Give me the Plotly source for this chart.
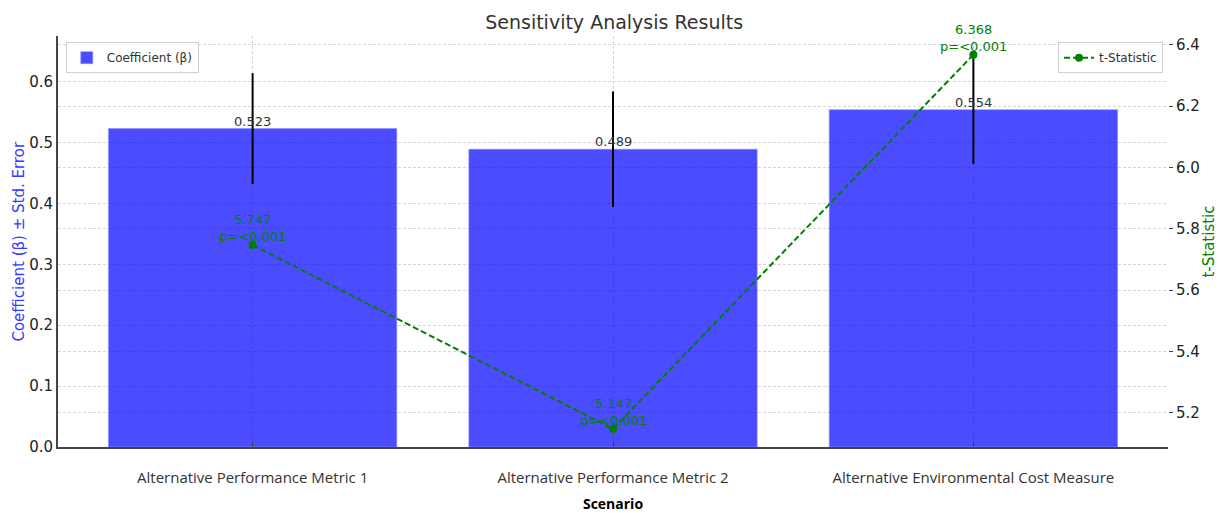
import plotly.graph_objects as go

scenarios = ["Alternative Performance Metric 1", "Alternative Performance Metric 2",
             "Alternative Environmental Cost Measure"]
coefficients = [0.523, 0.489, 0.554]
std_errors = [0.091, 0.095, 0.089]
t_stats = [5.747, 5.147, 6.368]
p_labels = ["p=<0.001", "p=<0.001", "p=<0.001"]

W, H = 1221, 513
L, R, T, B = 58, 53, 36, 66

fig = go.Figure()
fig.add_trace(go.Bar(
    x=scenarios, y=coefficients, width=0.8,
    marker=dict(color="rgba(0,0,255,0.7)", line=dict(color="rgba(140,140,255,0.6)", width=1)),
    error_y=dict(type="data", array=std_errors, color="black", thickness=2, width=0),
    name="Coefficient (β)", legend="legend", yaxis="y",
))
fig.add_trace(go.Scatter(
    x=scenarios, y=t_stats, mode="lines+markers",
    line=dict(color="green", dash="6px,3px", width=2),
    marker=dict(color="green", size=8),
    name="t-Statistic", legend="legend2", yaxis="y2",
))

annotations = []
for s, c in zip(scenarios, coefficients):
    annotations.append(dict(x=s, y=c, xref="x", yref="y", text=f"{c:.3f}", showarrow=False,
                            yanchor="bottom", yshift=-2,
                            font=dict(family="DejaVu Sans", size=13, color="#333333")))
for s, t, p in zip(scenarios, t_stats, p_labels):
    annotations.append(dict(x=s, y=t, xref="x", yref="y2", text=f"{t:.3f}<br>{p}", showarrow=False,
                            yanchor="bottom", yshift=-1,
                            font=dict(family="DejaVu Sans", size=13, color="green")))
# left axis title
annotations.append(dict(x=-0.036, y=0.5, xref="paper", yref="paper", xanchor="center", yanchor="middle",
                        text="Coefficient (β) ± Std. Error", textangle=-90, showarrow=False,
                        font=dict(family="DejaVu Sans", size=15, color="#3a3aff")))

grid = dict(showgrid=True, gridcolor="#d6d6d6", griddash="3px,2px", gridwidth=1)

fig.update_layout(
    width=W, height=H,
    margin=dict(l=L, r=R, t=T, b=B, autoexpand=False),
    plot_bgcolor="white", paper_bgcolor="white",
    font=dict(family="DejaVu Sans", size=15, color="#222222"),
    title=dict(text="Sensitivity Analysis Results", x=0.503, xanchor="center", y=0.957, yanchor="middle",
               font=dict(family="DejaVu Sans", size=19, color="#333333")),
    xaxis=dict(range=[-0.54, 2.54], showline=True, linecolor="#444444", linewidth=2,
               ticks="inside", ticklen=5, tickcolor="#444444", automargin=False,
               ticklabelstandoff=16,
               tickfont=dict(family="Open Sans", size=15, color="#333333"),
               title=dict(text="<b>Scenario</b>", standoff=14,
                          font=dict(family="Open Sans", size=14, color="#000000")),
               **grid),
    yaxis=dict(range=[0, 0.675], tickvals=[0, 0.1, 0.2, 0.3, 0.4, 0.5, 0.6], tickformat=".1f",
               showline=True, linecolor="#444444", linewidth=2, ticks="", automargin=False,
               zeroline=False, ticklabelstandoff=0,
               **grid),
    yaxis2=dict(range=[5.088, 6.429], overlaying="y", side="right", automargin=False,
                tickvals=[5.2, 5.4, 5.6, 5.8, 6.0, 6.2, 6.4], tickformat=".1f",
                ticks="outside", ticklen=4, tickcolor="#444444", showline=False, zeroline=False,
                title=dict(text="t-Statistic", standoff=4, font=dict(size=15, color="green")),
                **grid),
    legend=dict(x=0.007, y=0.985, xanchor="left", yanchor="top", bgcolor="rgba(255,255,255,0.8)",
                bordercolor="#d0d0d0", borderwidth=1, font=dict(size=12, color="#333333"),
                itemwidth=30),
    legend2=dict(x=0.9955, y=0.985, xanchor="right", yanchor="top", bgcolor="rgba(255,255,255,0.8)",
                 bordercolor="#d0d0d0", borderwidth=1, font=dict(size=12, color="#333333"),
                 itemwidth=30),
    annotations=annotations,
    showlegend=True,
)

fig.write_html("out.html", config={"displayModeBar": False},
               post_script="document.body.style.margin='0';document.body.style.overflow='hidden';")
